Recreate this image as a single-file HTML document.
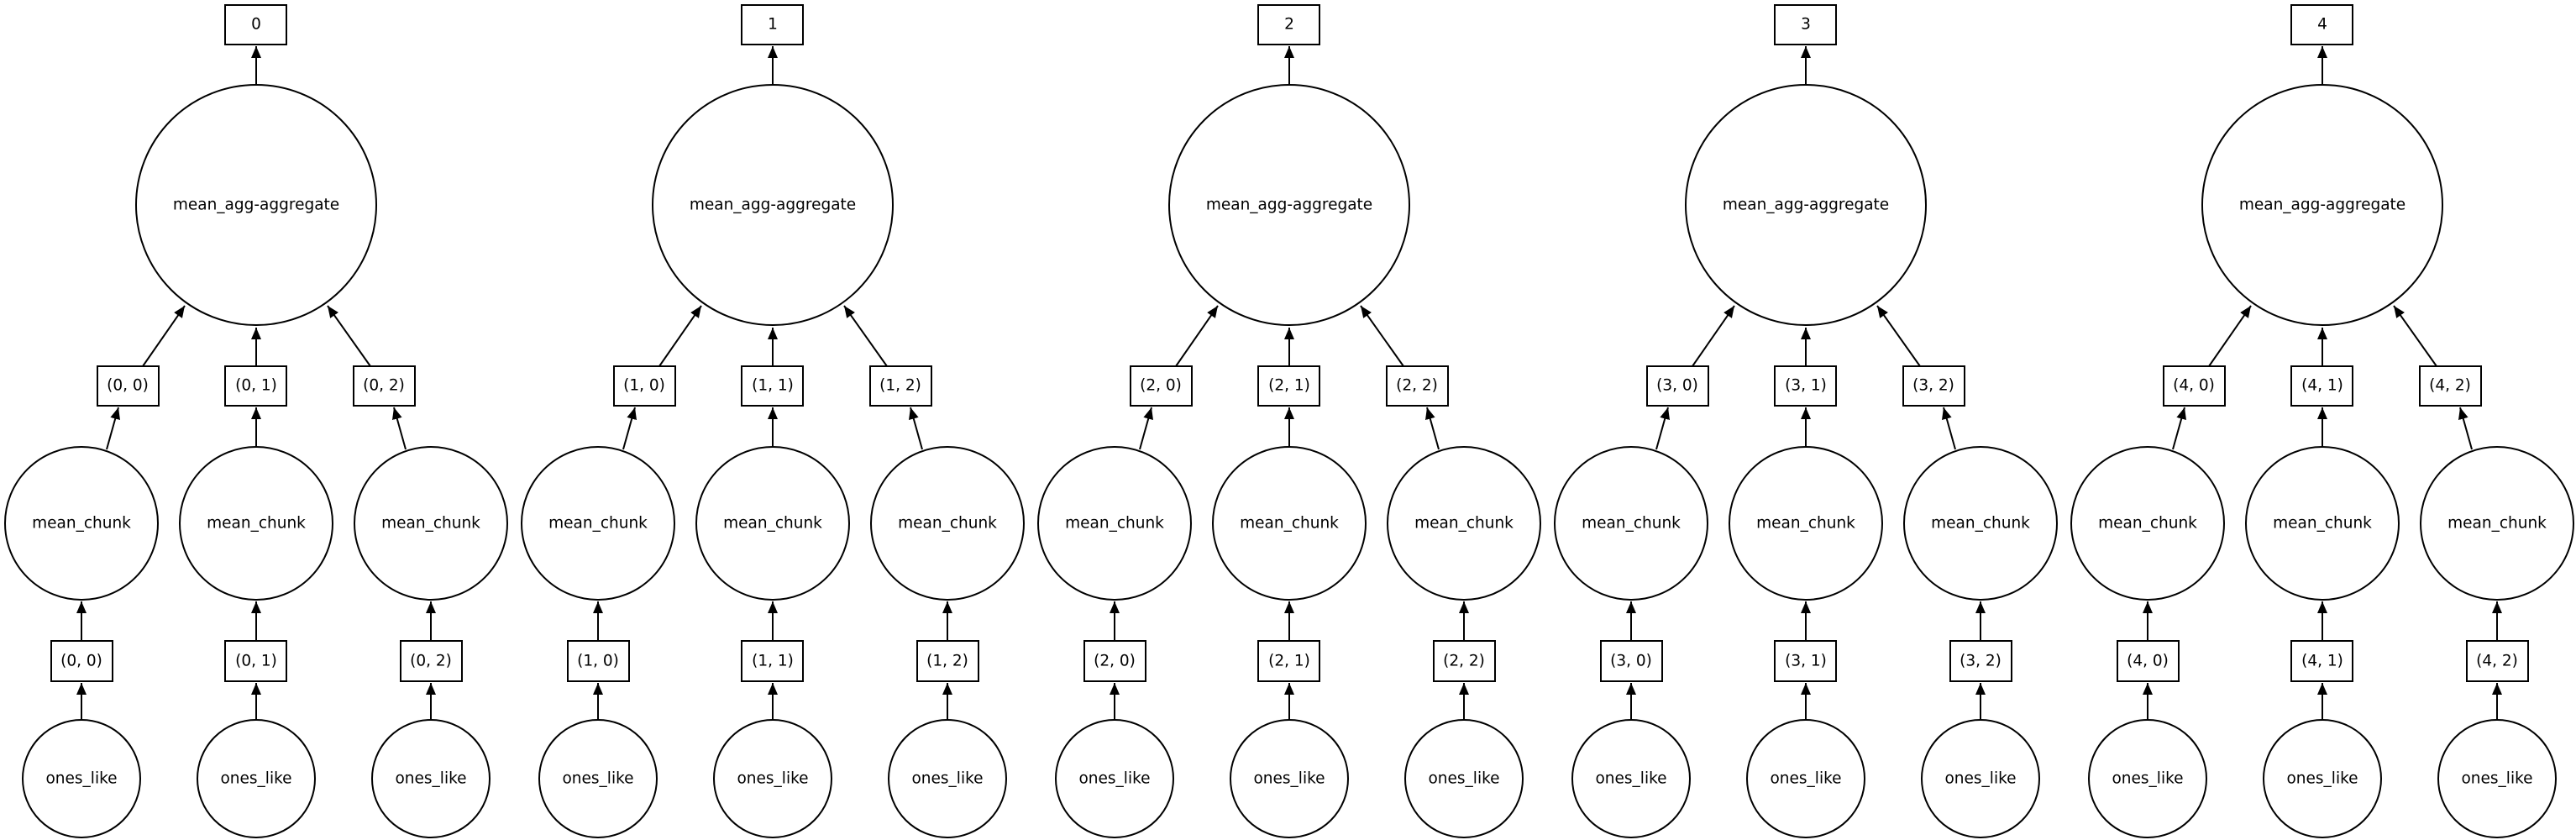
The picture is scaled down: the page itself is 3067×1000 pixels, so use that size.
<!DOCTYPE html>
<html><head><meta charset="utf-8"><style>
html,body{margin:0;padding:0;background:#fff;}
svg{display:block;}
text{font-family:"DejaVu Sans","Liberation Sans",sans-serif;font-size:18.5px;fill:#000;text-anchor:middle;dominant-baseline:central;}
.n{fill:none;stroke:#000;stroke-width:2;}
.e{stroke:#000;stroke-width:2;fill:none;marker-end:url(#a);}
</style></head><body>
<svg width="3067" height="1000" viewBox="0 0 3067 1000" xmlns="http://www.w3.org/2000/svg">
<defs><marker id="a" markerWidth="7" markerHeight="6" refX="7" refY="3" orient="auto" markerUnits="strokeWidth"><path d="M0,0L7,3L0,6z" fill="#000"/></marker></defs>

<g transform="translate(0,0)">
<rect class="n" x="268" y="6" width="73" height="47"/><text x="305" y="29">0</text>
<circle class="n" cx="305" cy="244" r="143"/><text x="305" y="244">mean_agg-aggregate</text>
<line class="e" x1="305" y1="101" x2="305" y2="55"/>
<rect class="n" x="116" y="436" width="73" height="47"/><text x="152" y="459">(0, 0)</text>
<rect class="n" x="268" y="436" width="73" height="47"/><text x="305" y="459">(0, 1)</text>
<rect class="n" x="421" y="436" width="73" height="47"/><text x="457" y="459">(0, 2)</text>
<line class="e" x1="170" y1="436" x2="220" y2="364"/>
<line class="e" x1="305" y1="436" x2="305" y2="390"/>
<line class="e" x1="441" y1="436" x2="390" y2="364"/>
<circle class="n" cx="97" cy="623" r="91"/><text x="97" y="623">mean_chunk</text>
<circle class="n" cx="305" cy="623" r="91"/><text x="305" y="623">mean_chunk</text>
<circle class="n" cx="513" cy="623" r="91"/><text x="513" y="623">mean_chunk</text>
<line class="e" x1="127" y1="535" x2="141" y2="485"/>
<line class="e" x1="305" y1="532" x2="305" y2="485"/>
<line class="e" x1="483" y1="535" x2="469" y2="485"/>
<rect class="n" x="61" y="763" width="73" height="48"/><text x="97" y="787">(0, 0)</text>
<rect class="n" x="268" y="763" width="73" height="48"/><text x="305" y="787">(0, 1)</text>
<rect class="n" x="477" y="763" width="73" height="48"/><text x="513" y="787">(0, 2)</text>
<line class="e" x1="97" y1="763" x2="97" y2="716"/>
<line class="e" x1="305" y1="763" x2="305" y2="716"/>
<line class="e" x1="513" y1="763" x2="513" y2="716"/>
<circle class="n" cx="97" cy="927" r="70"/><text x="97" y="927">ones_like</text>
<circle class="n" cx="305" cy="927" r="70"/><text x="305" y="927">ones_like</text>
<circle class="n" cx="513" cy="927" r="70"/><text x="513" y="927">ones_like</text>
<line class="e" x1="97" y1="857" x2="97" y2="813"/>
<line class="e" x1="305" y1="857" x2="305" y2="813"/>
<line class="e" x1="513" y1="857" x2="513" y2="813"/>
</g>

<g transform="translate(615,0)">
<rect class="n" x="268" y="6" width="73" height="47"/><text x="305" y="29">1</text>
<circle class="n" cx="305" cy="244" r="143"/><text x="305" y="244">mean_agg-aggregate</text>
<line class="e" x1="305" y1="101" x2="305" y2="55"/>
<rect class="n" x="116" y="436" width="73" height="47"/><text x="152" y="459">(1, 0)</text>
<rect class="n" x="268" y="436" width="73" height="47"/><text x="305" y="459">(1, 1)</text>
<rect class="n" x="421" y="436" width="73" height="47"/><text x="457" y="459">(1, 2)</text>
<line class="e" x1="170" y1="436" x2="220" y2="364"/>
<line class="e" x1="305" y1="436" x2="305" y2="390"/>
<line class="e" x1="441" y1="436" x2="390" y2="364"/>
<circle class="n" cx="97" cy="623" r="91"/><text x="97" y="623">mean_chunk</text>
<circle class="n" cx="305" cy="623" r="91"/><text x="305" y="623">mean_chunk</text>
<circle class="n" cx="513" cy="623" r="91"/><text x="513" y="623">mean_chunk</text>
<line class="e" x1="127" y1="535" x2="141" y2="485"/>
<line class="e" x1="305" y1="532" x2="305" y2="485"/>
<line class="e" x1="483" y1="535" x2="469" y2="485"/>
<rect class="n" x="61" y="763" width="73" height="48"/><text x="97" y="787">(1, 0)</text>
<rect class="n" x="268" y="763" width="73" height="48"/><text x="305" y="787">(1, 1)</text>
<rect class="n" x="477" y="763" width="73" height="48"/><text x="513" y="787">(1, 2)</text>
<line class="e" x1="97" y1="763" x2="97" y2="716"/>
<line class="e" x1="305" y1="763" x2="305" y2="716"/>
<line class="e" x1="513" y1="763" x2="513" y2="716"/>
<circle class="n" cx="97" cy="927" r="70"/><text x="97" y="927">ones_like</text>
<circle class="n" cx="305" cy="927" r="70"/><text x="305" y="927">ones_like</text>
<circle class="n" cx="513" cy="927" r="70"/><text x="513" y="927">ones_like</text>
<line class="e" x1="97" y1="857" x2="97" y2="813"/>
<line class="e" x1="305" y1="857" x2="305" y2="813"/>
<line class="e" x1="513" y1="857" x2="513" y2="813"/>
</g>

<g transform="translate(1230,0)">
<rect class="n" x="268" y="6" width="73" height="47"/><text x="305" y="29">2</text>
<circle class="n" cx="305" cy="244" r="143"/><text x="305" y="244">mean_agg-aggregate</text>
<line class="e" x1="305" y1="101" x2="305" y2="55"/>
<rect class="n" x="116" y="436" width="73" height="47"/><text x="152" y="459">(2, 0)</text>
<rect class="n" x="268" y="436" width="73" height="47"/><text x="305" y="459">(2, 1)</text>
<rect class="n" x="421" y="436" width="73" height="47"/><text x="457" y="459">(2, 2)</text>
<line class="e" x1="170" y1="436" x2="220" y2="364"/>
<line class="e" x1="305" y1="436" x2="305" y2="390"/>
<line class="e" x1="441" y1="436" x2="390" y2="364"/>
<circle class="n" cx="97" cy="623" r="91"/><text x="97" y="623">mean_chunk</text>
<circle class="n" cx="305" cy="623" r="91"/><text x="305" y="623">mean_chunk</text>
<circle class="n" cx="513" cy="623" r="91"/><text x="513" y="623">mean_chunk</text>
<line class="e" x1="127" y1="535" x2="141" y2="485"/>
<line class="e" x1="305" y1="532" x2="305" y2="485"/>
<line class="e" x1="483" y1="535" x2="469" y2="485"/>
<rect class="n" x="61" y="763" width="73" height="48"/><text x="97" y="787">(2, 0)</text>
<rect class="n" x="268" y="763" width="73" height="48"/><text x="305" y="787">(2, 1)</text>
<rect class="n" x="477" y="763" width="73" height="48"/><text x="513" y="787">(2, 2)</text>
<line class="e" x1="97" y1="763" x2="97" y2="716"/>
<line class="e" x1="305" y1="763" x2="305" y2="716"/>
<line class="e" x1="513" y1="763" x2="513" y2="716"/>
<circle class="n" cx="97" cy="927" r="70"/><text x="97" y="927">ones_like</text>
<circle class="n" cx="305" cy="927" r="70"/><text x="305" y="927">ones_like</text>
<circle class="n" cx="513" cy="927" r="70"/><text x="513" y="927">ones_like</text>
<line class="e" x1="97" y1="857" x2="97" y2="813"/>
<line class="e" x1="305" y1="857" x2="305" y2="813"/>
<line class="e" x1="513" y1="857" x2="513" y2="813"/>
</g>

<g transform="translate(1845,0)">
<rect class="n" x="268" y="6" width="73" height="47"/><text x="305" y="29">3</text>
<circle class="n" cx="305" cy="244" r="143"/><text x="305" y="244">mean_agg-aggregate</text>
<line class="e" x1="305" y1="101" x2="305" y2="55"/>
<rect class="n" x="116" y="436" width="73" height="47"/><text x="152" y="459">(3, 0)</text>
<rect class="n" x="268" y="436" width="73" height="47"/><text x="305" y="459">(3, 1)</text>
<rect class="n" x="421" y="436" width="73" height="47"/><text x="457" y="459">(3, 2)</text>
<line class="e" x1="170" y1="436" x2="220" y2="364"/>
<line class="e" x1="305" y1="436" x2="305" y2="390"/>
<line class="e" x1="441" y1="436" x2="390" y2="364"/>
<circle class="n" cx="97" cy="623" r="91"/><text x="97" y="623">mean_chunk</text>
<circle class="n" cx="305" cy="623" r="91"/><text x="305" y="623">mean_chunk</text>
<circle class="n" cx="513" cy="623" r="91"/><text x="513" y="623">mean_chunk</text>
<line class="e" x1="127" y1="535" x2="141" y2="485"/>
<line class="e" x1="305" y1="532" x2="305" y2="485"/>
<line class="e" x1="483" y1="535" x2="469" y2="485"/>
<rect class="n" x="61" y="763" width="73" height="48"/><text x="97" y="787">(3, 0)</text>
<rect class="n" x="268" y="763" width="73" height="48"/><text x="305" y="787">(3, 1)</text>
<rect class="n" x="477" y="763" width="73" height="48"/><text x="513" y="787">(3, 2)</text>
<line class="e" x1="97" y1="763" x2="97" y2="716"/>
<line class="e" x1="305" y1="763" x2="305" y2="716"/>
<line class="e" x1="513" y1="763" x2="513" y2="716"/>
<circle class="n" cx="97" cy="927" r="70"/><text x="97" y="927">ones_like</text>
<circle class="n" cx="305" cy="927" r="70"/><text x="305" y="927">ones_like</text>
<circle class="n" cx="513" cy="927" r="70"/><text x="513" y="927">ones_like</text>
<line class="e" x1="97" y1="857" x2="97" y2="813"/>
<line class="e" x1="305" y1="857" x2="305" y2="813"/>
<line class="e" x1="513" y1="857" x2="513" y2="813"/>
</g>

<g transform="translate(2460,0)">
<rect class="n" x="268" y="6" width="73" height="47"/><text x="305" y="29">4</text>
<circle class="n" cx="305" cy="244" r="143"/><text x="305" y="244">mean_agg-aggregate</text>
<line class="e" x1="305" y1="101" x2="305" y2="55"/>
<rect class="n" x="116" y="436" width="73" height="47"/><text x="152" y="459">(4, 0)</text>
<rect class="n" x="268" y="436" width="73" height="47"/><text x="305" y="459">(4, 1)</text>
<rect class="n" x="421" y="436" width="73" height="47"/><text x="457" y="459">(4, 2)</text>
<line class="e" x1="170" y1="436" x2="220" y2="364"/>
<line class="e" x1="305" y1="436" x2="305" y2="390"/>
<line class="e" x1="441" y1="436" x2="390" y2="364"/>
<circle class="n" cx="97" cy="623" r="91"/><text x="97" y="623">mean_chunk</text>
<circle class="n" cx="305" cy="623" r="91"/><text x="305" y="623">mean_chunk</text>
<circle class="n" cx="513" cy="623" r="91"/><text x="513" y="623">mean_chunk</text>
<line class="e" x1="127" y1="535" x2="141" y2="485"/>
<line class="e" x1="305" y1="532" x2="305" y2="485"/>
<line class="e" x1="483" y1="535" x2="469" y2="485"/>
<rect class="n" x="61" y="763" width="73" height="48"/><text x="97" y="787">(4, 0)</text>
<rect class="n" x="268" y="763" width="73" height="48"/><text x="305" y="787">(4, 1)</text>
<rect class="n" x="477" y="763" width="73" height="48"/><text x="513" y="787">(4, 2)</text>
<line class="e" x1="97" y1="763" x2="97" y2="716"/>
<line class="e" x1="305" y1="763" x2="305" y2="716"/>
<line class="e" x1="513" y1="763" x2="513" y2="716"/>
<circle class="n" cx="97" cy="927" r="70"/><text x="97" y="927">ones_like</text>
<circle class="n" cx="305" cy="927" r="70"/><text x="305" y="927">ones_like</text>
<circle class="n" cx="513" cy="927" r="70"/><text x="513" y="927">ones_like</text>
<line class="e" x1="97" y1="857" x2="97" y2="813"/>
<line class="e" x1="305" y1="857" x2="305" y2="813"/>
<line class="e" x1="513" y1="857" x2="513" y2="813"/>
</g>
</svg>
</body></html>
